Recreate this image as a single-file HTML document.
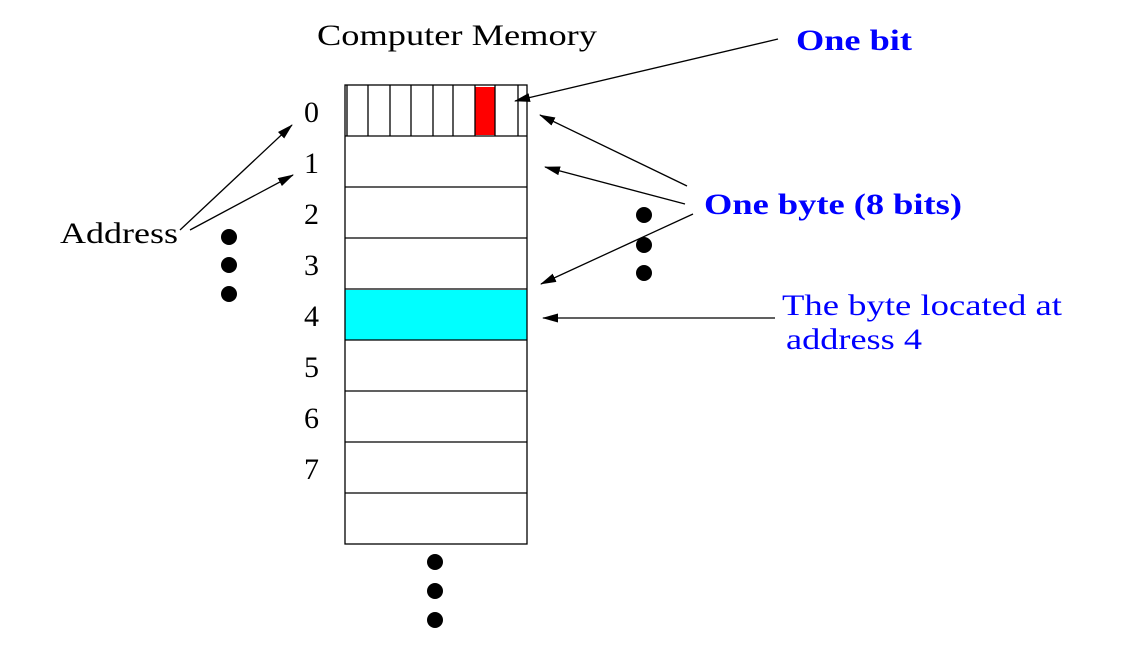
<!DOCTYPE html>
<html><head><style>body{margin:0;background:#fff}svg{display:block}</style></head><body>
<svg width="1131" height="654" viewBox="0 0 1131 654" xmlns="http://www.w3.org/2000/svg">
<defs><marker id="a" markerWidth="16" markerHeight="9" refX="15" refY="4.5" orient="auto" markerUnits="userSpaceOnUse"><path d="M0,0 L16,4.5 L0,9 z" fill="#000"/></marker></defs>
<g font-family="Liberation Serif, serif" font-size="30" lengthAdjust="spacingAndGlyphs">
<text x="317" y="45" textLength="280" lengthAdjust="spacingAndGlyphs">Computer Memory</text>
<text x="796" y="50" fill="#0000ff" font-weight="bold" textLength="116" lengthAdjust="spacingAndGlyphs">One bit</text>
<text x="704" y="214" fill="#0000ff" font-weight="bold" textLength="258" lengthAdjust="spacingAndGlyphs">One byte (8 bits)</text>
<text x="782" y="315" fill="#0000ff" textLength="280" lengthAdjust="spacingAndGlyphs">The byte located at</text>
<text x="786" y="349" fill="#0000ff" textLength="136" lengthAdjust="spacingAndGlyphs">address 4</text>
<text x="60" y="243" textLength="118" lengthAdjust="spacingAndGlyphs">Address</text>
<text x="304" y="122">0</text><text x="304" y="173">1</text><text x="304" y="224">2</text><text x="304" y="275">3</text>
<text x="304" y="326">4</text><text x="304" y="377">5</text><text x="304" y="428">6</text><text x="304" y="479">7</text>
</g>
<rect x="345" y="290" width="182" height="50" fill="#00ffff"/>
<rect x="475" y="87" width="20" height="48" fill="#ff0000"/>
<g stroke="#000" stroke-width="1.3" fill="none">
<rect x="345" y="85" width="182" height="459"/>
<path d="M345 136H527M345 187H527M345 238H527M345 289H527M345 340H527M345 391H527M345 442H527M345 493H527"/>
<path d="M347 85V136M368 85V136M390 85V136M411 85V136M433 85V136M453 85V136M475 85V136M495 85V136M518 85V136"/>
<line x1="778" y1="39" x2="515" y2="101" marker-end="url(#a)"/>
<line x1="687" y1="186" x2="540" y2="115" marker-end="url(#a)"/>
<line x1="685" y1="204" x2="545" y2="167" marker-end="url(#a)"/>
<line x1="693" y1="214" x2="541" y2="284" marker-end="url(#a)"/>
<line x1="775" y1="318" x2="543" y2="318" marker-end="url(#a)"/>
<line x1="180" y1="230" x2="292" y2="125" marker-end="url(#a)"/>
<line x1="190" y1="230" x2="293" y2="175" marker-end="url(#a)"/>
</g>
<g fill="#000">
<circle cx="229" cy="237" r="8"/><circle cx="229" cy="265" r="8"/><circle cx="229" cy="294" r="8"/>
<circle cx="644" cy="215" r="8"/><circle cx="644" cy="245" r="8"/><circle cx="644" cy="273" r="8"/>
<circle cx="435" cy="562" r="8"/><circle cx="435" cy="591" r="8"/><circle cx="435" cy="620" r="8"/>
</g>
</svg>
</body></html>
